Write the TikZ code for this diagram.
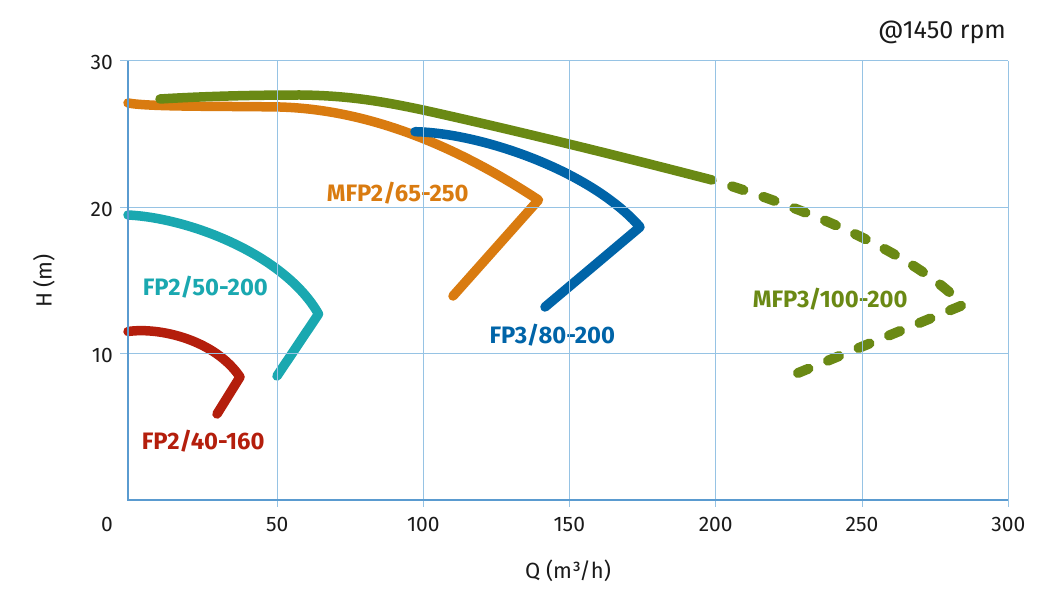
\documentclass[tikz,border=0pt]{standalone}
\usepackage{fontspec}
\setmainfont{Fira Sans}
\definecolor{cred}{RGB}{180,30,12}
\definecolor{cteal}{RGB}{26,168,176}
\definecolor{corange}{RGB}{217,123,16}
\definecolor{cblue}{RGB}{0,100,168}
\definecolor{cgreen}{RGB}{106,137,20}
\definecolor{cgrid}{RGB}{150,195,228}
\definecolor{caxis}{RGB}{90,155,208}
\definecolor{ctext}{RGB}{26,26,26}
\tikzset{
 gridline/.style={cgrid, line width=1pt},
 axisline/.style={caxis, line width=1.8pt},
 curve/.style={line width=9.5pt, line cap=round, line join=round},
 ticklab/.style={font=\fontsize{21}{25}\selectfont, text=ctext, inner sep=0pt},
 clabel/.style={font=\fontsize{23.8}{27}\selectfont\bfseries, inner sep=0pt, anchor=base west},
}
\begin{document}
\begin{tikzpicture}[x=1pt,y=-1pt]
\useasboundingbox (0,0) rectangle (1061,596);
% curves
\draw[curve, cred] (128,331.5) .. controls (160,327) and (215,340) .. (240,377) -- (217,414);
\draw[curve, cteal] (128,215) .. controls (190,218) and (285,255) .. (318.5,314) -- (277,376);
\draw[curve, corange] (128,103) .. controls (150,107) and (220,106) .. (280,107) .. controls (380,110) and (470,155) .. (538.5,200) -- (453,296);
\draw[curve, cblue] (415,131.7) .. controls (480,133) and (590,170) .. (640,227) -- (545,307);
\draw[curve, cgreen] (160,99) .. controls (200,96.5) and (250,95) .. (300,95) .. controls (350,95.5) and (385,102) .. (423,110) .. controls (500,127) and (600,151) .. (712,180);
\draw[curve, cgreen, line width=10pt, dash pattern=on 12pt off 21pt, dash phase=12pt] (712,180) .. controls (800,207) and (910,250) .. (963,305) -- (798,373);
% curve labels
\node[clabel, text=cred] (l1) at (141.7,449) {FP2/40-160};
\node[clabel, text=cteal] (l2) at (142.7,295) {FP2/50-200};
\node[clabel, text=corange] (l3) at (326.7,201.7) {MFP2/65-250};
\node[clabel, text=cblue] (l4) at (489.3,343.3) {FP3/80-200};
\node[clabel, text=cgreen] (l5) at (752.7,307.3) {MFP3/100-200};
% grid (drawn over the curves)
\foreach \x in {277.3,423.3,569.3,715.7,862,1008.3} \draw[gridline] (\x,61) -- (\x,507);
\foreach \y in {207.5,353.5} \draw[gridline] (120,\y) -- (1008.3,\y);
\draw[gridline] (120,61) -- (1008.3,61);
\draw[axisline] (128,61) -- (128,500) -- (1008.3,500);
% tick labels
\node[ticklab, anchor=east] (y30) at (113,62.5) {30};
\node[ticklab, anchor=east] (y20) at (113,209) {20};
\node[ticklab, anchor=east] (y10) at (113,355) {10};
\node[ticklab, anchor=base] (x0) at (107,531) {0};
\node[ticklab, anchor=base] (x50) at (277.3,531) {50};
\node[ticklab, anchor=base] (x100) at (423.3,531) {100};
\node[ticklab, anchor=base] (x150) at (569.3,531) {150};
\node[ticklab, anchor=base] (x200) at (715.7,531) {200};
\node[ticklab, anchor=base] (x250) at (862,531) {250};
\node[ticklab, anchor=base] (x300) at (1008.3,531) {300};
% titles
\node[font=\fontsize{25}{29}\selectfont, text=ctext, inner sep=0pt, anchor=base east] (rpm) at (1006,39) {@1450 rpm};
\node[font=\fontsize{22}{26}\selectfont, text=ctext, inner sep=0pt, anchor=base] (qlab) at (568,578) {Q (m³/h)};
\node[font=\fontsize{22}{26}\selectfont, text=ctext, inner sep=0pt, anchor=base, rotate=90] (hlab) at (51.7,281) {H (m)};
\end{tikzpicture}
\end{document}
